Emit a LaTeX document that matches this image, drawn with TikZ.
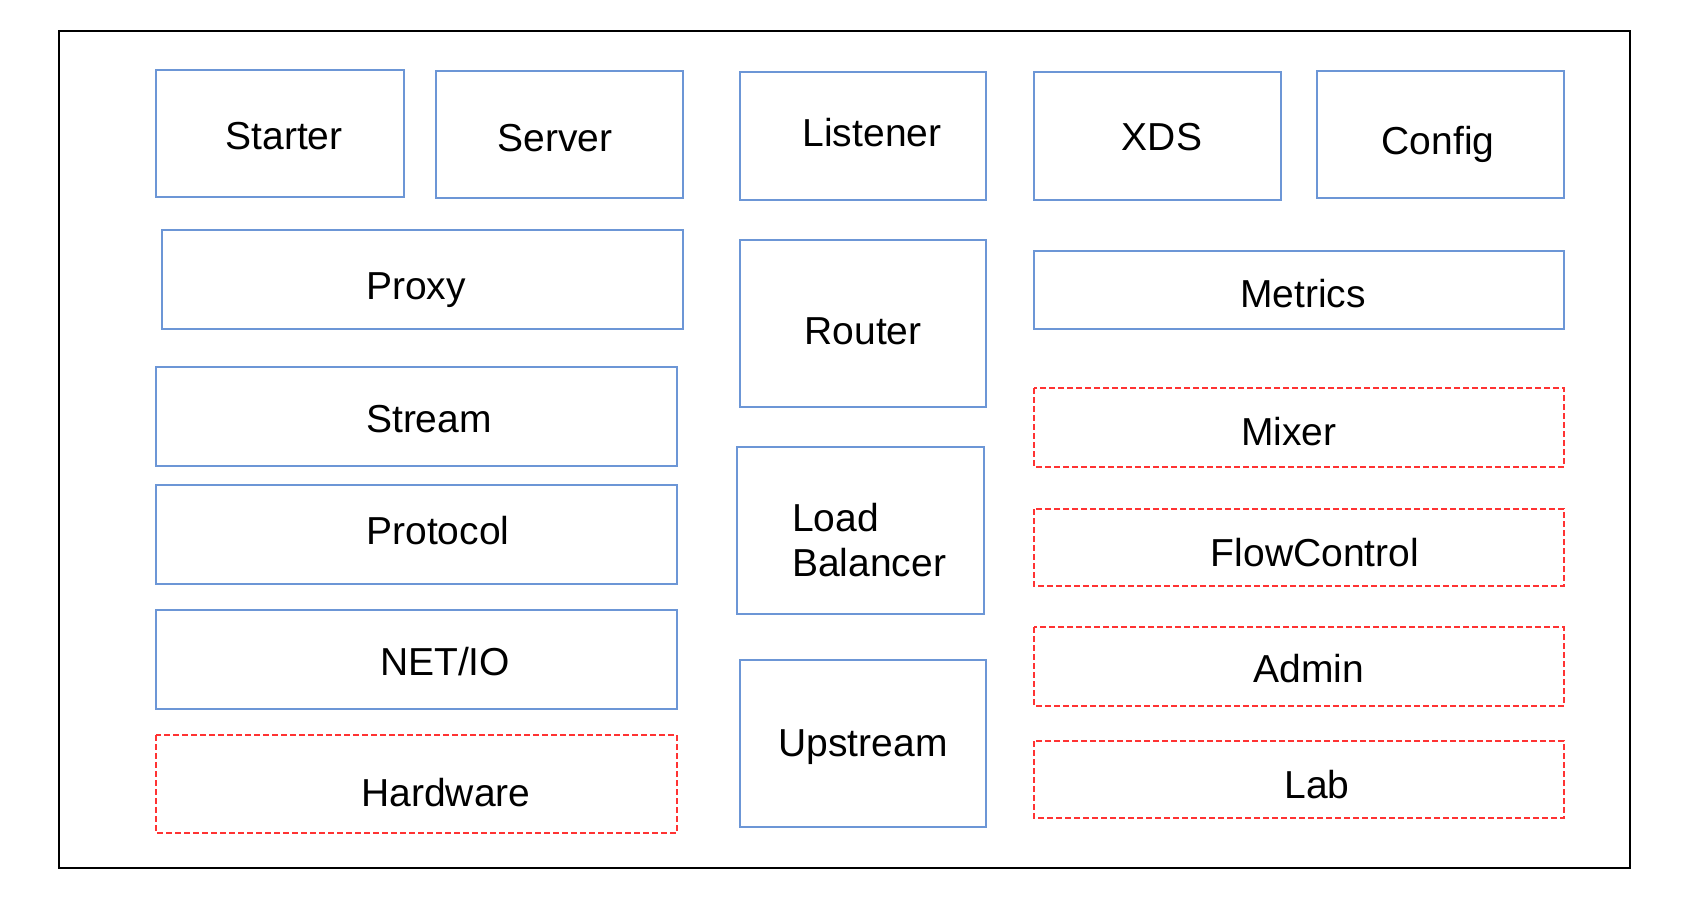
\documentclass[tikz,border=0pt]{standalone}
\usepackage{fontspec}
\setmainfont{Liberation Sans}
\usetikzlibrary{positioning}
\definecolor{boxblue}{RGB}{108,150,214}
\definecolor{boxred}{RGB}{255,51,51}
\tikzset{
  blk/.style={draw=boxblue,line width=2pt},
  newblk/.style={draw=boxred,line width=2pt,dash pattern=on 6pt off 3pt},
  txt/.style={inner sep=0pt,font=\fontsize{39}{45}\selectfont,text height=28pt,text depth=0pt}
}

\begin{document}
\begin{tikzpicture}[x=1pt,y=-1pt]
\useasboundingbox (0,0) rectangle (1686,902);
\draw[line width=2.5pt] (59,31) rectangle (1630,868);
% left column
\draw[blk] (156,70) rectangle (404,197);
\node[txt] (starter) at (284,135) {Starter};
\draw[blk] (436,71) rectangle (683,198);
\node[txt] (server) at (555,137) {Server};
\draw[blk] (162,230) rectangle (683,329);
\node[txt] (proxy) at (416,285) {Proxy};
\draw[blk] (156,367) rectangle (677,466);
\node[txt] (stream) at (429,418) {Stream};
\draw[blk] (156,485) rectangle (677,584);
\node[txt] (protocol) at (438,530) {Protocol};
\draw[blk] (156,610) rectangle (677,709);
\node[txt] (netio) at (445,661) {NET/IO};
\draw[newblk] (156,735) rectangle (677,833);
\node[txt] (hardware) at (446,792) {Hardware};
% middle column
\draw[blk] (740,72) rectangle (986,200);
\node[txt] (listener) at (872,132) {Listener};
\draw[blk] (740,240) rectangle (986,407);
\node[txt] (router) at (863,330) {Router};
\draw[blk] (737,447) rectangle (984,614);
\node[inner sep=0pt,font=\fontsize{39}{45}\selectfont,align=left,anchor=north west] (lb) at (792,503) {Load\\Balancer};
\draw[blk] (740,660) rectangle (986,827);
\node[txt] (upstream) at (863,742) {Upstream};
% right column
\draw[blk] (1034,72) rectangle (1281,200);
\node[txt] (xds) at (1162,136) {XDS};
\draw[blk] (1317,71) rectangle (1564,198);
\node[txt] (config) at (1438,140) {Config};
\draw[blk] (1034,251) rectangle (1564,329);
\node[txt] (metrics) at (1303,293) {Metrics};
\draw[newblk] (1034,388) rectangle (1564,467);
\node[txt] (mixer) at (1289,431) {Mixer};
\draw[newblk] (1034,509) rectangle (1564,586);
\node[txt] (flowctl) at (1315,552) {FlowControl};
\draw[newblk] (1034,627) rectangle (1564,706);
\node[txt] (admin) at (1309,668) {Admin};
\draw[newblk] (1034,741) rectangle (1564,818);
\node[txt] (lab) at (1317,784) {Lab};
\end{tikzpicture}
\end{document}
